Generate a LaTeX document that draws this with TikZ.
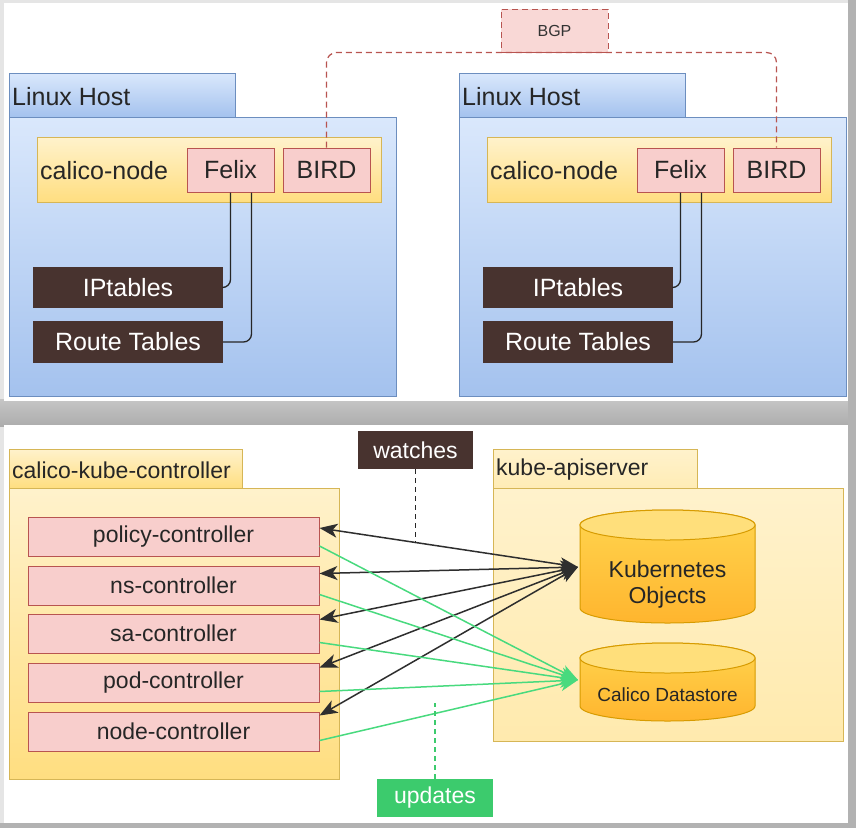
\documentclass[tikz,border=0pt]{standalone}
\usepackage{fontspec}
\setmainfont{Liberation Sans}
\usepackage{tikz}
\usetikzlibrary{arrows.meta}

\definecolor{hostblue}{HTML}{DAE8FC}
\definecolor{hostblue2}{HTML}{A4C2EE}
\definecolor{hostline}{HTML}{6C8EBF}
\definecolor{nodeyel}{HTML}{FFF2CC}
\definecolor{nodeyel2}{HTML}{FFDE80}
\definecolor{yelline}{HTML}{D6B656}
\definecolor{pinkfill}{HTML}{F8CECC}
\definecolor{pinkline}{HTML}{B85450}
\definecolor{darkfill}{HTML}{48332F}
\definecolor{cylfill}{HTML}{FFD54F}
\definecolor{cylfill2}{HTML}{FFB52E}
\definecolor{cylline}{HTML}{D79B00}
\definecolor{updgreen}{HTML}{3CCB6D}
\definecolor{linegreen}{HTML}{48DA7E}
\definecolor{arrowgray}{HTML}{2E2E2E}

\tikzset{
  bigtext/.style={font=\fontsize{25}{30}\selectfont, text=black!85, inner sep=0pt},
  midtext/.style={font=\fontsize{23}{26}\selectfont, text=black!85, inner sep=0pt},
  hostbox/.style={draw=hostline, line width=1pt, top color=hostblue, bottom color=hostblue2},
  yelbar/.style={draw=yelline, line width=1pt, top color=nodeyel, bottom color=nodeyel2},
  pinkbox/.style={draw=pinkline, line width=1pt, fill=pinkfill, inner sep=0pt},
  darkbox/.style={fill=darkfill, text=white, inner sep=0pt},
  greenbox/.style={fill=updgreen, text=white, inner sep=0pt},
  felixline/.style={black!85, line width=1.3pt, rounded corners=8pt},
  bgpline/.style={pinkline, line width=1.2pt, dash pattern=on 6pt off 4pt, rounded corners=10pt},
  cylbody/.style={draw=cylline, line width=1pt, top color=cylfill, bottom color=cylfill2},
  watcharrow/.style={arrowgray, line width=1.5pt,
    arrows={Stealth[length=18pt,width=14pt,inset=5pt]-Stealth[length=18pt,width=14pt,inset=5pt]}},
  updarrow/.style={linegreen, line width=1.5pt,
    arrows={-Stealth[length=18pt,width=14pt,inset=5pt]}},
}

\begin{document}
\begin{tikzpicture}[x=1pt,y=1pt]
\useasboundingbox (0,0) rectangle (856,-828);
% background and panels
\fill[gray!20] (0,0) rectangle (856,-828);
\shade[top color=gray!45, bottom color=gray!65] (0,-399) rectangle (856,-426);
\fill[gray!60] (848,0) rectangle (856,-828);
\fill[gray!60] (0,-823) rectangle (856,-828);
\fill[white] (4,-3) rectangle (848,-401);
\fill[white] (4,-425) rectangle (848,-823);

% the two hosts
\foreach \i/\dx in {1/0,2/450} {
\draw[hostbox] (9+\dx,-73) rectangle (235+\dx,-117);
\draw[hostbox] (9+\dx,-117) rectangle (396+\dx,-396);
\node[bigtext, anchor=west] (host\i) at (12+\dx,-97) {Linux Host};
\draw[yelbar] (37+\dx,-137) rectangle (381+\dx,-202);
\node[bigtext, anchor=west] (cnode\i) at (40+\dx,-171) {calico-node};
\node[pinkbox, bigtext, minimum width=87pt, minimum height=44pt] (felix\i) at (230.5+\dx,-170) {Felix};
\node[pinkbox, bigtext, minimum width=87pt, minimum height=44pt] (bird\i) at (326.5+\dx,-170) {BIRD};
\node[darkbox, font=\fontsize{25}{30}\selectfont, minimum width=190pt, minimum height=41pt] (ipt\i) at (128+\dx,-287.5) {IPtables};
\node[darkbox, font=\fontsize{25}{30}\selectfont, minimum width=190pt, minimum height=42pt] (rtab\i) at (128+\dx,-342) {Route Tables};
\draw[felixline] (felix\i.south) |- (ipt\i.east);
\draw[felixline] ([xshift=21pt]felix\i.south) |- (rtab\i.east);
}

\node[draw=pinkline, line width=1pt, dash pattern=on 6pt off 4pt, fill=pinkfill!80,
  minimum width=107pt, minimum height=43pt, font=\fontsize{16}{18}\selectfont, text=black!80] (bgp) at (554.5,-30.5) {BGP};
\draw[bgpline] (bird1.north) |- (bgp.south) -| (bird2.north);

% controllers
\draw[yelbar] (9,-449) rectangle (242,-488);
\draw[yelbar] (9,-488) rectangle (339,-779);
\node[midtext, anchor=west] (kc) at (12,-470) {calico-kube-controller};
\foreach \n/\t/\y in {pol/policy-controller/537, ns/ns-controller/585.5, sa/sa-controller/633.5, pod/pod-controller/682.5, nd/node-controller/731.5} {
\node[pinkbox, midtext, minimum width=291pt, minimum height=39pt] (\n) at (173.5,-\y) {\t};
}

% kube-apiserver
\draw[draw=yelline, line width=1pt, top color=nodeyel, bottom color=nodeyel!70!nodeyel2] (493,-449) rectangle (697,-488);
\draw[draw=yelline, line width=1pt, top color=nodeyel, bottom color=nodeyel!60!nodeyel2] (493,-488) rectangle (843,-741);
\node[midtext, anchor=west] (kapi) at (496,-470) {kube-apiserver};

\draw[cylbody] (580,-525) -- (580,-608) arc (180:360:87.5pt and 15pt) -- (755,-525) arc (0:180:87.5pt and 15pt) -- cycle;
\draw[draw=cylline, line width=1pt, fill=cylfill!75!white] (667.5,-525) ellipse (87.5pt and 15pt);
\node[midtext, align=center] (ko) at (667.5,-585) {Kubernetes\\Objects};

\draw[cylbody] (580,-658) -- (580,-706) arc (180:360:87.5pt and 15pt) -- (755,-658) arc (0:180:87.5pt and 15pt) -- cycle;
\draw[draw=cylline, line width=1pt, fill=cylfill!75!white] (667.5,-658) ellipse (87.5pt and 15pt);
\node[font=\fontsize{19}{22}\selectfont, text=black!85] (cd) at (667.5,-695) {Calico Datastore};

\coordinate (koin) at (578,-567);
\coordinate (cdin) at (578,-680);

\foreach \n/\s in {pol/9,ns/12,sa/14,pod/15,nd/16} {
\draw[watcharrow] ([yshift=\s pt]\n.east) -- (koin);
}
\foreach \n in {pol,ns,sa,pod,nd} {
\draw[updarrow] ([yshift=-9pt]\n.east) -- (cdin);
}

\node[darkbox, font=\fontsize{23}{26}\selectfont, minimum width=115pt, minimum height=38pt] (watches) at (415.5,-450) {watches};
\coordinate (wend) at (415.5,-543);
\draw[black!85, line width=1.5pt, dash pattern=on 5pt off 4pt] (watches.south) -- (wend);

\node[greenbox, font=\fontsize{23}{26}\selectfont, minimum width=116pt, minimum height=38pt] (updates) at (435,-798) {updates};
\coordinate (uend) at (435,-703);
\draw[updgreen, line width=1.5pt, dash pattern=on 5pt off 4pt] (updates.north) -- (uend);
\end{tikzpicture}
\end{document}
